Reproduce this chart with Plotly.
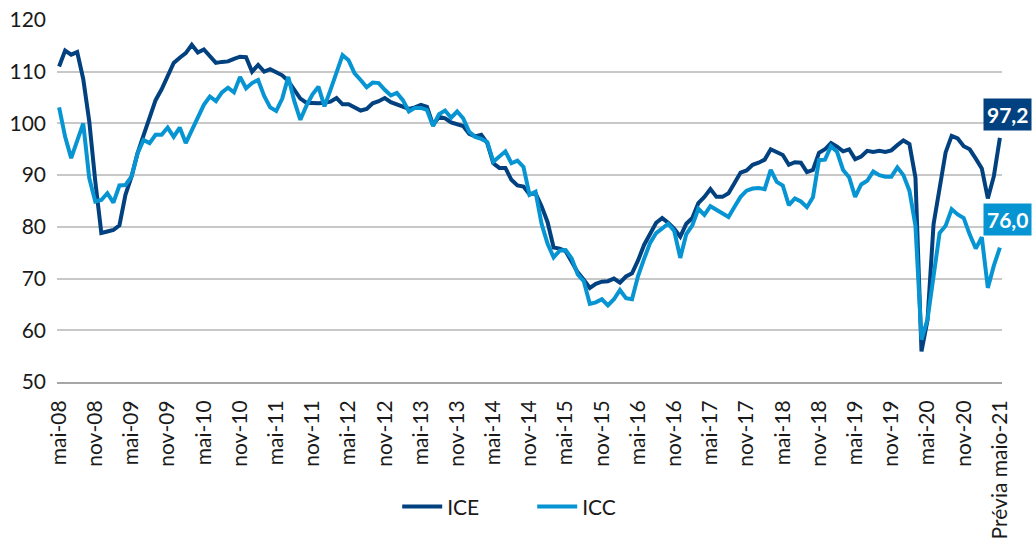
import plotly.graph_objects as go

month_abbr = ["jan", "fev", "mar", "abr", "mai", "jun", "jul", "ago", "set", "out", "nov", "dez"]
start_year, start_month, n_months = 2008, 5, 157
last_label = "Prévia maio-21"

ice = [111.0, 114.1, 113.3, 113.8, 108.6, 100.4, 88.8, 78.8, 79.1, 79.4,
       80.3, 86.2, 89.7, 94.2, 97.7, 101.3, 104.5, 106.6, 109.2, 111.7,
       112.7, 113.6, 115.2, 113.7, 114.3, 112.9, 111.7, 111.9, 112.0, 112.5,
       112.9, 112.8, 110.0, 111.3, 110.0, 110.5, 109.9, 109.3, 108.2, 106.5,
       104.8, 104.0, 103.9, 103.9, 104.0, 104.2, 104.9, 103.7, 103.7, 103.1,
       102.5, 102.8, 103.9, 104.3, 104.9, 104.1, 103.6, 103.1, 102.8, 103.1,
       103.6, 103.2, 99.7, 101.3, 101.0, 100.2, 99.9, 99.5, 98.0, 97.5,
       97.8, 96.2, 92.3, 91.4, 91.4, 89.1, 88.0, 87.8, 86.3, 86.5,
       84.0, 80.9, 76.0, 75.8, 75.3, 73.1, 71.2, 69.8, 68.2, 69.0,
       69.4, 69.5, 70.0, 69.2, 70.4, 71.0, 73.5, 76.5, 78.8, 80.8,
       81.7, 80.8, 79.6, 78.1, 80.6, 81.7, 84.6, 85.8, 87.3, 85.8,
       85.8, 86.5, 88.5, 90.5, 90.9, 92.0, 92.4, 93.0, 95.0, 94.5,
       93.9, 92.0, 92.5, 92.4, 90.6, 91.0, 94.3, 95.0, 96.2, 95.5,
       94.6, 95.0, 93.1, 93.6, 94.7, 94.5, 94.7, 94.5, 94.8, 95.8,
       96.7, 96.0, 89.5, 55.9, 62.0, 80.5, 87.5, 94.4, 97.6, 97.1,
       95.6, 95.0, 93.2, 91.3, 85.5, 89.8, 97.2]

icc = [103.1, 97.4, 93.3, 96.8, 100.0, 89.4, 84.9, 85.2, 86.5, 84.7,
       88.0, 88.1, 89.7, 94.2, 96.8, 96.2, 97.8, 97.8, 99.2, 97.4,
       99.2, 96.2, 98.7, 101.0, 103.6, 105.2, 104.3, 106.0, 106.9, 106.0,
       109.0, 106.8, 107.8, 108.4, 105.3, 103.1, 102.4, 104.8, 109.0, 104.3,
       100.7, 103.4, 105.6, 107.1, 103.3, 106.5, 110.0, 113.2, 112.2, 109.7,
       108.4, 107.0, 107.9, 107.8, 106.5, 105.4, 105.9, 104.5, 102.3, 103.0,
       103.0, 102.6, 99.5, 101.8, 102.5, 101.1, 102.3, 101.0, 98.4, 97.4,
       97.0, 96.4, 92.6, 93.6, 94.6, 92.3, 92.8, 91.6, 86.2, 86.8,
       80.6, 76.7, 74.1, 75.4, 75.5, 73.9, 70.8, 69.5, 65.1, 65.4,
       66.0, 64.8, 66.0, 67.8, 66.2, 66.0, 70.5, 73.8, 76.9, 78.8,
       79.8, 80.6, 79.2, 74.0, 78.6, 80.3, 83.5, 82.3, 84.0, 83.3,
       82.7, 81.9, 83.9, 85.8, 87.0, 87.4, 87.5, 87.3, 91.0, 88.7,
       88.0, 84.2, 85.5, 84.9, 83.8, 85.7, 92.9, 93.0, 95.6, 94.5,
       91.0, 89.6, 85.8, 88.2, 88.9, 90.7, 90.0, 89.7, 89.7, 91.5,
       90.0, 87.0, 80.2, 58.2, 62.1, 71.1, 78.8, 80.2, 83.4, 82.4,
       81.7, 78.5, 75.8, 78.0, 68.2, 72.5, 76.0]

categories = []
for k in range(n_months):
    m = (start_month - 1 + k) % 12
    y = start_year + (start_month - 1 + k) // 12
    categories.append(f"{month_abbr[m]}-{y % 100:02d}")
categories[-1] = last_label

tick_vals = categories[::6]
tick_text = tick_vals

ICE_COLOR = "#02417f"
ICC_COLOR = "#0794d2"
FONT = "Lato"

fig = go.Figure()
fig.add_trace(go.Scatter(x=categories, y=ice, name="ICE", mode="lines",
                         line=dict(color=ICE_COLOR, width=4)))
fig.add_trace(go.Scatter(x=categories, y=icc, name="ICC", mode="lines",
                         line=dict(color=ICC_COLOR, width=4)))

fig.add_annotation(xref="paper", x=1.032, xanchor="right", y=ice[-1], yref="y",
                   text="<b>97,2</b>", showarrow=False, yshift=23,
                   font=dict(family=FONT, size=21, color="white"),
                   bgcolor=ICE_COLOR, borderpad=3)
fig.add_annotation(xref="paper", x=1.032, xanchor="right", y=icc[-1], yref="y",
                   text="<b>76,0</b>", showarrow=False, yshift=28,
                   font=dict(family=FONT, size=21, color="white"),
                   bgcolor=ICC_COLOR, borderpad=3)

fig.update_layout(
    width=1033, height=542,
    margin=dict(l=57, r=31, t=20, b=160),
    paper_bgcolor="white", plot_bgcolor="white",
    font=dict(family=FONT, size=21, color="#1a1a1a"),
    showlegend=True,
    legend=dict(orientation="h", x=0.36, xanchor="left", y=-0.345,
                yanchor="middle", font=dict(size=21), entrywidth=80,
                itemwidth=40),
)
fig.update_xaxes(type="category", range=[-0.35, n_months - 1 + 0.35],
                 tickmode="array", tickvals=tick_vals, ticktext=tick_text,
                 tickangle=-90, ticks="", showgrid=False, automargin=False,
                 showline=True, linecolor="#a6a6a6", linewidth=2,
                 tickfont=dict(size=21), ticklabelstandoff=8)
fig.update_yaxes(range=[50, 120], dtick=10, tick0=50, showgrid=True,
                 gridcolor="#c8c8c8", gridwidth=1.5, zeroline=False, automargin=False,
                 ticks="", tickfont=dict(size=21), ticklabelstandoff=10)

fig.write_html("out.html", config={"displayModeBar": False},
               post_script="document.body.style.margin='0';document.body.style.overflow='hidden';")
